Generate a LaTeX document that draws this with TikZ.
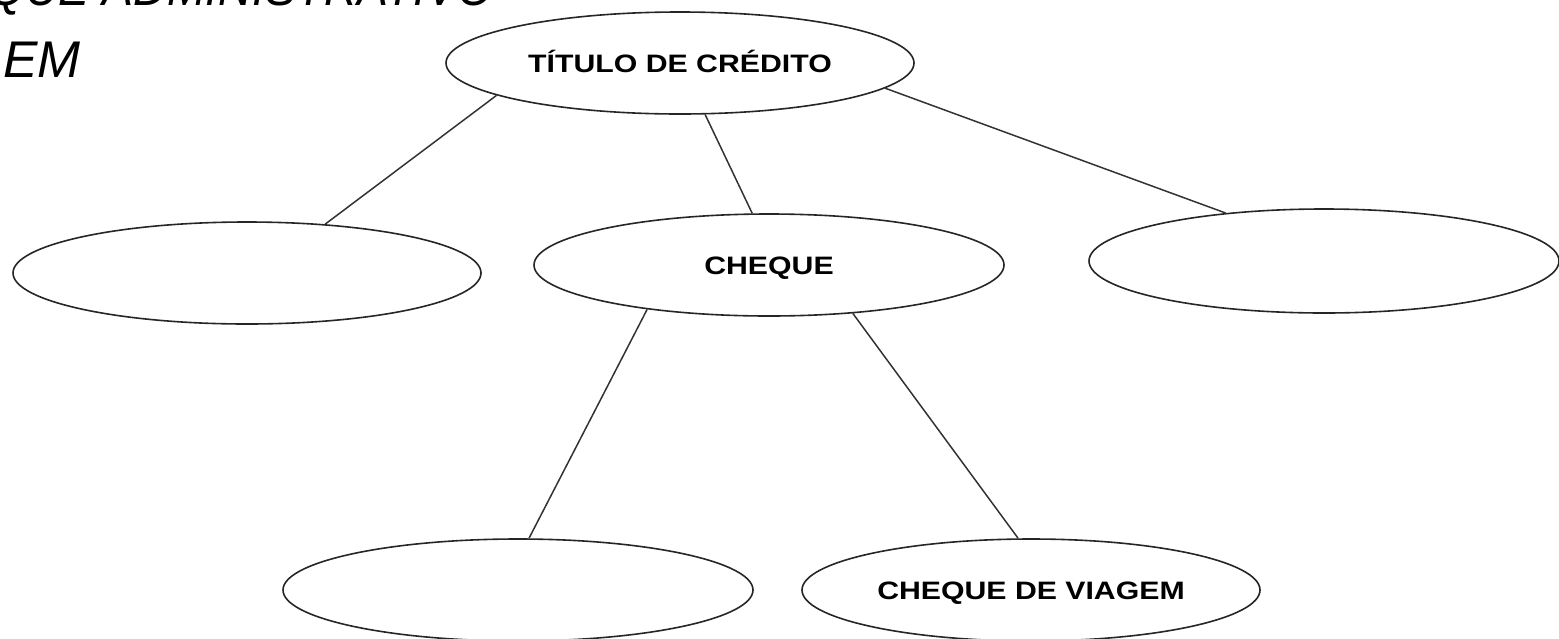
\documentclass[tikz,border=0pt]{standalone}
\usepackage{fontspec}
\setmainfont{Liberation Sans}
\newfontfamily\ovalfont{Liberation Sans Bold}[FakeStretch=1.2]
\newfontfamily\cortefont{Liberation Sans Italic}[FakeStretch=0.9]
\usetikzlibrary{shapes.geometric}

\begin{document}
\begin{tikzpicture}[%
      x=0.5pt, y=-0.5pt,
      oval/.style={ellipse, draw=black!85, line width=0.8pt, inner sep=0pt,
        minimum width=235pt, minimum height=51pt,
        font=\ovalfont\fontsize{12.6}{14}\selectfont,
        text height=9pt, text depth=0pt},
      link/.style={draw=black!80, line width=0.75pt},
      titulo/.style={anchor=base west, font=\itshape\fontsize{25.8}{30}\selectfont},
      ]
      \useasboundingbox (0,0) rectangle (1559,638);
      \clip (0,0) rectangle (1559,638);

      % texto cortado no canto
      \node[titulo, font=\cortefont\fontsize{25.8}{30}\selectfont] (linha1) at (-18,5) {QUE ADMINISTRATIVO};
      \node[titulo] (linha2) at (-4,77) {EM};

      % elipses
      \node[oval, minimum width=234pt] (credito) at (680,63) {TÍTULO DE CRÉDITO};
      \node[oval, minimum width=234pt] (vazio1) at (247,273) {};
      \node[oval] (cheque) at (769,265) {CHEQUE};
      \node[oval, minimum height=52pt] (vazio2) at (1324,261) {};
      \node[oval] (vazio3) at (518,590) {};
      \node[oval, minimum width=229pt] (viagem) at (1031,590) {CHEQUE DE VIAGEM};

      % ligacoes
      \draw[link] (credito.190) -- (vazio1.32);
      \draw[link] (credito.296) -- (cheque.108);
      \draw[link] (credito.353) -- (vazio2.154);
      \draw[link] (cheque.200) -- (vazio3.78);
      \draw[link] (cheque.330) -- (viagem.104);
      \end{tikzpicture}
\end{document}
